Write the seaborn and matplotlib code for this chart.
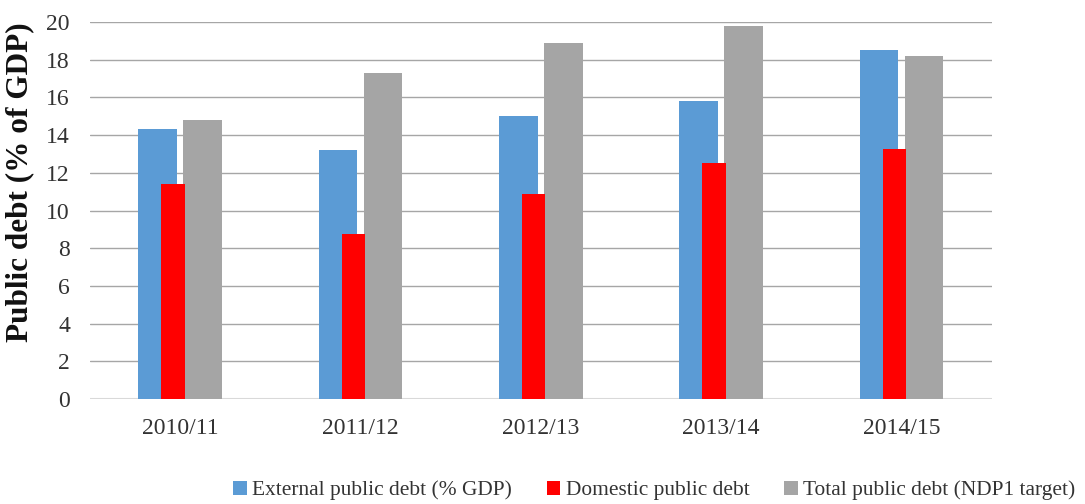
import numpy as np
import pandas as pd
import matplotlib
matplotlib.use("Agg")
import matplotlib.pyplot as plt
from matplotlib.patches import Patch
import seaborn as sns

years = ["2010/11", "2011/12", "2012/13", "2013/14", "2014/15"]
external_debt = [14.3, 13.2, 15.0, 15.8, 18.5]
domestic_debt = [11.4, 8.75, 10.9, 12.5, 13.25]
total_debt = [14.8, 17.3, 18.9, 19.8, 18.2]

series_names = ["External public debt (% GDP)", "Domestic public debt",
                "Total public debt (NDP1 target)"]
colors = {"External public debt (% GDP)": "#5B9BD5",
          "Domestic public debt": "#FF0000",
          "Total public debt (NDP1 target)": "#A5A5A5"}

sns.set_theme(style="white")
plt.rcParams["font.family"] = ["Liberation Serif", "DejaVu Serif"]

fig = plt.figure(figsize=(10.85, 5.04), dpi=100)
ax = fig.add_axes([0.083, 0.2083, 0.831, 0.748])

# External and total debt side by side
pair = pd.DataFrame({
    "year": years * 2,
    "value": external_debt + total_debt,
    "series": [series_names[0]] * len(years) + [series_names[2]] * len(years),
})
sns.barplot(data=pair, x="year", y="value", hue="series", order=years,
            hue_order=[series_names[0], series_names[2]],
            palette=colors, width=0.5, gap=0.145, dodge=True,
            saturation=1, errorbar=None, legend=False, ax=ax, zorder=2,
            linewidth=0, edgecolor="none")

# Domestic debt overlaid between the two
idx = np.arange(len(years))
ax.bar(idx - 0.04, domestic_debt, width=0.13, color=colors[series_names[1]],
       linewidth=0, edgecolor="none", zorder=3)

ax.set_xlim(-0.5, len(years) - 0.5)
ax.set_ylim(0, 20)
ax.set_yticks(np.arange(0, 21, 2))
ax.grid(axis="y", color="#A6A6A6", linewidth=1.0, zorder=0)
ax.grid(axis="x", visible=False)
ax.set_axisbelow(True)
for s in ax.spines.values():
    s.set_visible(False)
ax.axhline(0, color="#D9D9D9", linewidth=1.5, zorder=1)

ax.tick_params(axis="both", length=0, labelsize=17, colors="#333333")
ax.tick_params(axis="x", pad=13.5)
ax.tick_params(axis="y", pad=14.5)
ax.set_xlabel("")
ax.set_ylabel("Public debt (% of GDP)", fontsize=22.5, fontweight="bold",
              color="#111111")
ax.yaxis.set_label_coords(-0.062, 0.574)

handles = [Patch(facecolor=colors[n], edgecolor="none", label=n) for n in series_names]
fig.legend(handles=handles, loc="center", bbox_to_anchor=(0.603, 0.027),
           ncol=3, frameon=False, fontsize=15.4, handlelength=0.65,
           handleheight=0.65, handletextpad=0.25, columnspacing=1.6,
           labelcolor="#333333")

fig.savefig("out.png", dpi=100)
